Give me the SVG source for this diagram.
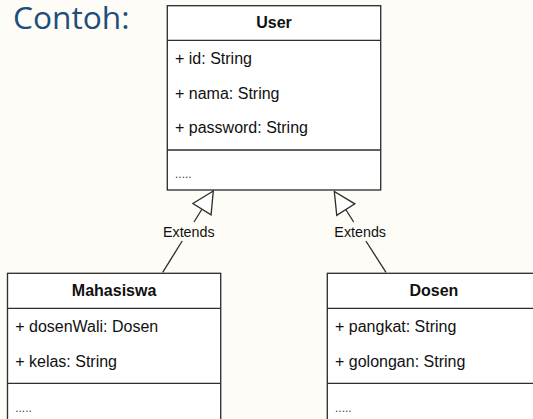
<svg xmlns="http://www.w3.org/2000/svg" width="533" height="419" viewBox="0 0 533 419">
<defs>
<style>
.bg{fill:#fefcf6}
.box{fill:#ffffff;stroke:#2e2e2e;stroke-width:1.33}
.sep{stroke:#2e2e2e;stroke-width:1.33;fill:none}
.title{font-family:"Liberation Sans",Arial,sans-serif;font-size:16px;font-weight:bold;fill:#111;text-anchor:middle}
.attr{font-family:"Liberation Sans",Arial,sans-serif;font-size:16px;fill:#111}
.dots{font-family:"Liberation Sans",Arial,sans-serif;font-size:12px;fill:#444}
.lbl{font-family:"Liberation Sans",Arial,sans-serif;font-size:14.3px;fill:#111;text-anchor:middle}
.conn{stroke:#2e2e2e;stroke-width:1.33;fill:none}
.heading{font-family:"Open Sans","Liberation Sans",sans-serif;font-size:31.7px;fill:#1f4e7d}
</style>
<marker id="ext" viewBox="0 0 24 24" refX="23" refY="12" markerWidth="24" markerHeight="24" markerUnits="userSpaceOnUse" orient="auto">
<path d="M23,12 L1.6,1.3 L1.6,22.7 Z" fill="#ffffff" stroke="#2e2e2e" stroke-width="1.33"/>
</marker>
</defs>
<rect class="bg" x="0" y="0" width="533" height="419"/>
<text class="heading" x="13" y="29.3">Contoh:</text>

<g id="connectors">
<line class="conn" x1="162.7" y1="272.3" x2="182.2" y2="241"/>
<line class="conn" x1="194" y1="222" x2="213.3" y2="191" marker-end="url(#ext)"/>
<text class="lbl" x="188.8" y="237">Extends</text>
<line class="conn" x1="386" y1="272.3" x2="365.9" y2="241"/>
<line class="conn" x1="353.7" y1="222" x2="334.3" y2="191.5" marker-end="url(#ext)"/>
<text class="lbl" x="360.2" y="237">Extends</text>
</g>

<g id="user">
<rect class="box" x="167.3" y="5.7" width="213.4" height="184.3"/>
<line class="sep" x1="167.3" y1="40.3" x2="380.7" y2="40.3"/>
<line class="sep" x1="167.3" y1="150" x2="380.7" y2="150"/>
<text class="title" x="274" y="28.3">User</text>
<text class="attr" x="175" y="64">+ id: String</text>
<text class="attr" x="175" y="98.7">+ nama: String</text>
<text class="attr" x="175" y="133.3">+ password: String</text>
<text class="dots" x="175" y="178">.....</text>
</g>

<g id="mahasiswa">
<rect class="box" x="7.5" y="273.3" width="213.2" height="160"/>
<line class="sep" x1="7.5" y1="308.3" x2="220.7" y2="308.3"/>
<line class="sep" x1="7.5" y1="383.3" x2="220.7" y2="383.3"/>
<text class="title" x="114.1" y="296">Mahasiswa</text>
<text class="attr" x="15.2" y="332">+ dosenWali: Dosen</text>
<text class="attr" x="15.2" y="366.7">+ kelas: String</text>
<text class="dots" x="15.2" y="412">.....</text>
</g>

<g id="dosen">
<rect class="box" x="327.3" y="273.3" width="213.2" height="160"/>
<line class="sep" x1="327.3" y1="308.3" x2="540.5" y2="308.3"/>
<line class="sep" x1="327.3" y1="383.3" x2="540.5" y2="383.3"/>
<text class="title" x="433.9" y="296">Dosen</text>
<text class="attr" x="335" y="332">+ pangkat: String</text>
<text class="attr" x="335" y="366.7">+ golongan: String</text>
<text class="dots" x="335" y="412">.....</text>
</g>
</svg>
